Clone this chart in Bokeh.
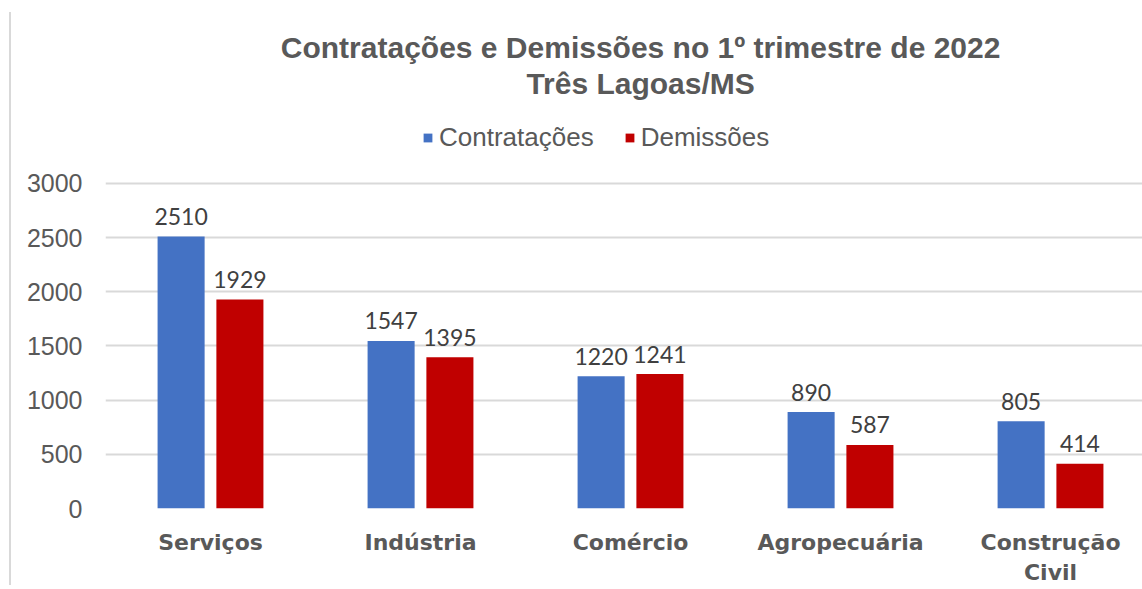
from bokeh.plotting import figure
from bokeh.models import (ColumnDataSource, Range1d, FixedTicker, Legend, LegendItem,
                          Label, InlineStyleSheet)
from bokeh.transform import dodge
from bokeh.core.properties import value
from bokeh.embed import file_html
from bokeh.resources import INLINE

categories = ["Serviços", "Indústria", "Comércio", "Agropecuária", "Construção\nCivil"]
contratacoes = [2510, 1547, 1220, 890, 805]
demissoes = [1929, 1395, 1241, 587, 414]
y_ticks = [0, 500, 1000, 1500, 2000, 2500, 3000]
title_lines = ["Contratações e Demissões no 1º trimestre de 2022", "Três Lagoas/MS"]
series_names = ["Contratações", "Demissões"]

BLUE = "#4472C4"
RED = "#C00000"
GRAY = "#595959"

xs = list(range(len(categories)))
src = ColumnDataSource(dict(
    x=xs,
    c=contratacoes,
    d=demissoes,
    cl=[str(v) for v in contratacoes],
    dl=[str(v) for v in demissoes],
))

W, H = 1142, 589
p = figure(width=W, height=H, output_backend="svg", toolbar_location=None,
           x_range=Range1d(-0.5, 4.438), y_range=Range1d(0, 4689),
           min_border_left=105, min_border_right=0, min_border_top=0, min_border_bottom=81,
           outline_line_color=None, background_fill_color="white", border_fill_color=None)
p.title = None
p.stylesheets = [InlineStyleSheet(css=(
    ":host { background: linear-gradient(#d9d9d9, #d9d9d9) no-repeat; "
    "background-size: 2px 573px; background-position: 9px 12px; }"))]

bw = 0.224
off = 0.14
r1 = p.vbar(x=dodge("x", -off, range=p.x_range), top="c", width=bw, source=src,
            fill_color=BLUE, line_color=None)
r2 = p.vbar(x=dodge("x", off, range=p.x_range), top="d", width=bw, source=src,
            fill_color=RED, line_color=None)

lab_kw = dict(text_align="center", text_baseline="alphabetic", y_offset=-20,
              text_font=value("Lato"), text_font_size="23px", text_color="#404040")
p.text(x=dodge("x", -off, range=p.x_range), y="c", text="cl", source=src, **lab_kw)
p.text(x=dodge("x", off, range=p.x_range), y="d", text="dl", source=src, **lab_kw)

# axes
p.yaxis.ticker = FixedTicker(ticks=y_ticks)
p.yaxis.axis_line_color = None
p.yaxis.major_tick_line_color = None
p.yaxis.minor_tick_line_color = None
p.yaxis.major_label_standoff = 17
p.yaxis.major_label_text_font = "Liberation Sans"
p.yaxis.major_label_text_font_size = "25px"
p.yaxis.major_label_text_color = GRAY

p.xaxis.ticker = FixedTicker(ticks=xs)
p.xaxis.major_label_overrides = {i: c for i, c in zip(xs, categories)}
p.xaxis.axis_line_color = None
p.xaxis.major_tick_line_color = None
p.xaxis.minor_tick_line_color = None
p.xaxis.major_label_standoff = 15
p.xaxis.major_label_text_font = "DejaVu Sans"
p.xaxis.major_label_text_font_style = "bold"
p.xaxis.major_label_text_font_size = "22px"
p.xaxis.major_label_text_color = GRAY

p.xgrid.grid_line_color = None
p.ygrid.ticker = FixedTicker(ticks=y_ticks)
p.ygrid.grid_line_color = "#d9d9d9"
p.ygrid.grid_line_width = 2

# title
for txt, ty in zip(title_lines, [4255, 3923]):
    p.add_layout(Label(x=2.048, y=ty, text=txt, text_align="center",
                       text_baseline="middle", text_font="Liberation Sans",
                       text_font_style="bold", text_font_size="30px", text_color=GRAY))

legend = Legend(items=[LegendItem(label=series_names[0], renderers=[r1]),
                       LegendItem(label=series_names[1], renderers=[r2])],
                location=(317, 355), orientation="horizontal",
                padding=0, margin=0, spacing=30, label_standoff=6,
                glyph_width=11, glyph_height=11,
                border_line_color=None, background_fill_color=None,
                label_text_font="Liberation Sans", label_text_font_size="26px",
                label_text_color=GRAY)
p.add_layout(legend)

open("out.html", "w").write(file_html(p, INLINE))
